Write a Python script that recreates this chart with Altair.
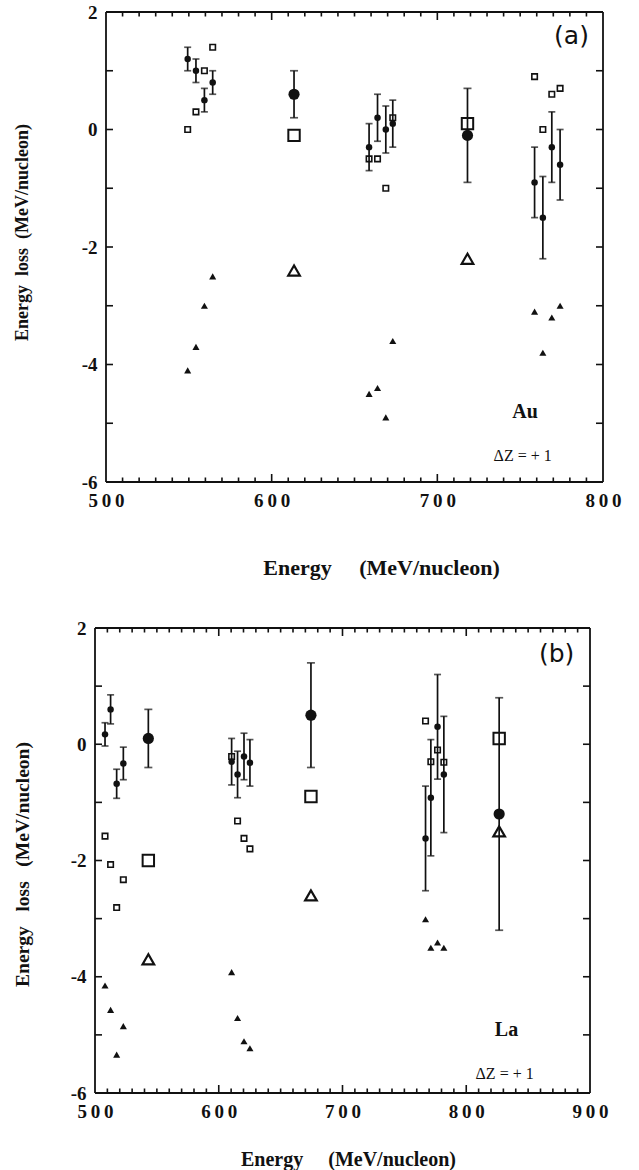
import altair as alt
import pandas as pd

SERIF = "Liberation Serif"
INK = "#111111"
Y_MIN, Y_MAX = -6, 2

# ---------------- (a) Au target ----------------
au_e = [549.3, 554.3, 559.4, 564.4, 658.8, 663.9, 668.9, 673.1, 758.7, 763.7, 769.1, 774.1]
au_dot = [1.2, 1.0, 0.5, 0.8, -0.3, 0.2, 0.0, 0.1, -0.9, -1.5, -0.3, -0.6]
au_dot_err = [0.2, 0.2, 0.2, 0.2, 0.4, 0.4, 0.4, 0.4, 0.6, 0.7, 0.6, 0.6]
au_square = [0.0, 0.3, 1.0, 1.4, -0.5, -0.5, -1.0, 0.2, 0.9, 0.0, 0.6, 0.7]
au_triangle = [-4.1, -3.7, -3.0, -2.5, -4.5, -4.4, -4.9, -3.6, -3.1, -3.8, -3.2, -3.0]

au_mean_e = [613.5, 718.2]
au_mean_dot = [0.6, -0.1]
au_mean_err = [0.4, 0.8]
au_mean_square = [-0.1, 0.1]
au_mean_triangle = [-2.4, -2.2]

# ---------------- (b) La target ----------------
la_e = [508.1, 512.6, 517.5, 522.9, 610.4, 615.2, 620.4, 625.2, 767.1, 771.4, 776.8, 781.9]
la_dot = [0.17, 0.60, -0.68, -0.33, -0.30, -0.52, -0.21, -0.32, -1.62, -0.92, 0.30, -0.52]
la_dot_err = [0.2, 0.25, 0.25, 0.28, 0.4, 0.4, 0.4, 0.4, 0.9, 1.0, 0.9, 1.0]
la_square = [-1.58, -2.07, -2.81, -2.33, -0.21, -1.32, -1.62, -1.80, 0.40, -0.30, -0.10, -0.31]
la_triangle = [-4.15, -4.57, -5.34, -4.85, -3.92, -4.71, -5.11, -5.23, -3.01, -3.50, -3.41, -3.50]

la_mean_e = [543.1, 674.5, 826.6]
la_mean_dot = [0.1, 0.5, -1.2]
la_mean_err = [0.5, 0.9, 2.0]
la_mean_square = [-2.0, -0.9, 0.1]
la_mean_triangle = [-3.7, -2.6, -1.5]

# axis tick values
y_major = [-6, -4, -2, 0, 2]
y_inner_ticks = [-5, -4, -3, -2, -1, 0, 1]

X_LABEL_EXPR = "join(split(format(datum.value, 'd'), ''), '\u2009')"
Y_LABEL_EXPR = "datum.value < 0 ? '-' + format(-datum.value, 'd') : format(datum.value, 'd')"


def build_panel(p):
    lo, hi = p["xdom"]
    px_lo, px_hi = p["xrange"]
    h = p["height"]
    xs = alt.Scale(domain=[lo, hi], range=p["xrange"], nice=False, zero=False)
    ys = alt.Scale(domain=[Y_MIN, Y_MAX], nice=False, zero=False)
    xaxis = alt.Axis(
        values=p["xmajor"], ticks=False, domain=False, grid=False,
        labelExpr=X_LABEL_EXPR, labelFont=SERIF, labelFontWeight="bold",
        labelFontSize=19, labelColor=INK, labelPadding=9, labelFlush=False,
        labelOverlap=False,
        title=p["xtitle"], titleFont=SERIF, titleFontWeight="bold",
        titleFontSize=p["xtitle_size"], titleColor=INK,
        titlePadding=p["xtitle_pad"], titleX=p["xtitle_x"], titleAlign="center",
    )
    yaxis = alt.Axis(
        values=y_major, ticks=False, domain=False, grid=False, offset=p["yoffset"],
        labelExpr=Y_LABEL_EXPR, labelFont=SERIF, labelFontWeight="bold",
        labelFontSize=19, labelColor=INK, labelPadding=9, labelFlush=False,
        labelOverlap=False,
        title=p["ytitle"], titleFont=SERIF, titleFontWeight="bold",
        titleFontSize=p["ytitle_size"], titleColor=INK,
        titlePadding=p["ytitle_pad"], titleY=p["ytitle_y"], titleAlign="center",
    )

    def X(f):
        return alt.X(f"{f}:Q", scale=xs, axis=xaxis)

    def Y(f):
        return alt.Y(f"{f}:Q", scale=ys, axis=yaxis)

    def XD(v):
        return alt.XDatum(datum=v, type="quantitative", scale=xs, axis=xaxis)

    def YD(v):
        return alt.YDatum(datum=v, type="quantitative", scale=ys, axis=yaxis)

    one = pd.DataFrame({"k": [0]})

    # plot frame
    frame = pd.DataFrame({
        "x0": [lo, hi, lo, lo], "x1": [lo, hi, hi, hi],
        "y0": [Y_MIN, Y_MIN, Y_MIN, Y_MAX], "y1": [Y_MAX, Y_MAX, Y_MIN, Y_MAX],
    })
    layers = [
        alt.Chart(frame).mark_rule(color=INK, strokeWidth=1.8).encode(
            x=X("x0"), x2="x1", y=Y("y0"), y2="y1")
    ]

    # inward ticks on all four sides, lengths converted from pixels to data units
    per_px_y = (Y_MAX - Y_MIN) / h
    per_px_x = (hi - lo) / (px_hi - px_lo)
    rows = []
    for t in range(lo + 10, hi, 10):
        ln = (8 if t in p["xmajor"] else 4.5) * per_px_y
        rows.append((t, t, Y_MIN, Y_MIN + ln))
        rows.append((t, t, Y_MAX, Y_MAX - ln))
    for t in y_inner_ticks:
        rows.append((lo, lo + 7 * per_px_x, t, t))
        rows.append((hi, hi - 7 * per_px_x, t, t))
    ticks = pd.DataFrame(rows, columns=["x0", "x1", "y0", "y1"])
    layers.append(alt.Chart(ticks).mark_rule(color=INK, strokeWidth=1.6).encode(
        x=X("x0"), x2="x1", y=Y("y0"), y2="y1"))

    # individual measurements
    small = pd.DataFrame({"E": p["e"], "dot": p["dot"], "sq": p["square"], "tri": p["triangle"]})
    small["lo"] = small["dot"] - pd.Series(p["dot_err"])
    small["hi"] = small["dot"] + pd.Series(p["dot_err"])
    # averaged values
    mean = pd.DataFrame({"E": p["mean_e"], "dot": p["mean_dot"], "sq": p["mean_square"],
                         "tri": p["mean_triangle"]})
    mean["lo"] = mean["dot"] - pd.Series(p["mean_err"])
    mean["hi"] = mean["dot"] + pd.Series(p["mean_err"])

    for df, cap in ((small, 7), (mean, 8)):
        layers.append(alt.Chart(df).mark_rule(color=INK, strokeWidth=1.7).encode(
            x=X("E"), y=Y("lo"), y2="hi"))
        for end in ("lo", "hi"):
            layers.append(alt.Chart(df).mark_tick(
                color=INK, orient="horizontal", size=cap, thickness=1.7).encode(
                x=X("E"), y=Y(end)))

    layers += [
        alt.Chart(small).mark_point(shape="square", filled=False, size=30,
                                    color=INK, strokeWidth=1.6, opacity=1).encode(x=X("E"), y=Y("sq")),
        alt.Chart(small).mark_point(shape="triangle-up", filled=True, size=50,
                                    color=INK, opacity=1).encode(x=X("E"), y=Y("tri")),
        alt.Chart(small).mark_point(shape="circle", filled=True, size=42,
                                    color=INK, opacity=1).encode(x=X("E"), y=Y("dot")),
        alt.Chart(mean).mark_point(shape="square", filled=False, size=130,
                                   color=INK, strokeWidth=2, opacity=1).encode(x=X("E"), y=Y("sq")),
        alt.Chart(mean).mark_point(shape="triangle-up", filled=False, size=135,
                                   color=INK, strokeWidth=2.2, opacity=1).encode(x=X("E"), y=Y("tri")),
        alt.Chart(mean).mark_point(shape="circle", filled=True, size=125,
                                   color=INK, opacity=1).encode(x=X("E"), y=Y("dot")),
    ]

    # panel annotations
    tag_x, tag_y = p["tag_pos"]
    el_x, el_y = p["elem_pos"]
    dz_x, dz_y = p["dz_pos"]
    layers += [
        alt.Chart(one).mark_text(font="DejaVu Sans", fontSize=25, color=INK).encode(
            x=XD(tag_x), y=YD(tag_y), text=alt.value(p["tag"])),
        alt.Chart(one).mark_text(font=SERIF, fontSize=20, fontWeight="bold", color=INK).encode(
            x=XD(el_x), y=YD(el_y), text=alt.value(p["elem"])),
        alt.Chart(one).mark_text(font=SERIF, fontSize=16, color=INK).encode(
            x=XD(dz_x), y=YD(dz_y), text=alt.value("\u0394Z = + 1")),
    ]

    return alt.layer(*layers).properties(width=p["width"], height=h)


NB = "\u00a0"
panel_a = build_panel(dict(
    xdom=[500, 800], xrange=[11, 508], xmajor=[500, 600, 700, 800],
    width=508, height=470, yoffset=-11,
    e=au_e, dot=au_dot, dot_err=au_dot_err, square=au_square, triangle=au_triangle,
    mean_e=au_mean_e, mean_dot=au_mean_dot, mean_err=au_mean_err,
    mean_square=au_mean_square, mean_triangle=au_mean_triangle,
    xtitle="Energy" + NB * 5 + "(MeV/nucleon)", xtitle_size=22, xtitle_pad=47, xtitle_x=286,
    ytitle="Energy" + NB * 2 + "loss" + NB * 2 + "(MeV/nucleon)", ytitle_size=18,
    ytitle_pad=50, ytitle_y=220,
    tag="(a)", tag_pos=(781, 1.59), elem="Au", elem_pos=(753, -4.81), dz_pos=(751.5, -5.56),
))

panel_b = build_panel(dict(
    xdom=[500, 900], xrange=[0, 495], xmajor=[500, 600, 700, 800, 900],
    width=495, height=465, yoffset=0,
    e=la_e, dot=la_dot, dot_err=la_dot_err, square=la_square, triangle=la_triangle,
    mean_e=la_mean_e, mean_dot=la_mean_dot, mean_err=la_mean_err,
    mean_square=la_mean_square, mean_triangle=la_mean_triangle,
    xtitle="Energy" + NB * 5 + "(MeV/nucleon)", xtitle_size=20, xtitle_pad=28, xtitle_x=253,
    ytitle="Energy" + NB * 3 + "loss" + NB * 3 + "(MeV/nucleon)", ytitle_size=19.5,
    ytitle_pad=38, ytitle_y=236,
    tag="(b)", tag_pos=(873, 1.55), elem="La", elem_pos=(832.5, -4.91), dz_pos=(831, -5.67),
))

chart = alt.vconcat(panel_a, panel_b, spacing=41).properties(
    padding={"left": 12, "top": 3, "right": 5, "bottom": 5},
    background="white",
).configure_view(stroke=None)

chart.save("out.html", embed_options={"renderer": "svg", "actions": False})
